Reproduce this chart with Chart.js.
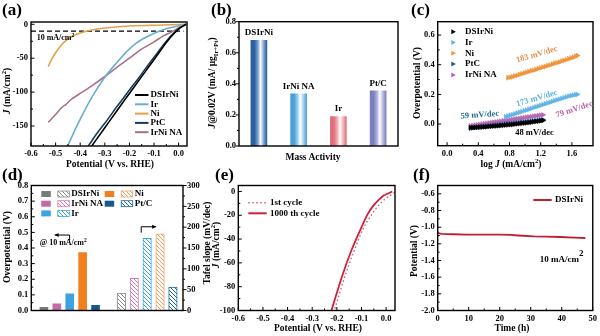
<!DOCTYPE html>
<html lang="en">
<head>
<meta charset="UTF-8">
<title>DSIrNi HER</title>
<script src="https://cdn.jsdelivr.net/npm/chart.js"></script>
<style>
  body { margin: 0; background: #fff; }
  #page { position: relative; width: 600px; height: 336px; overflow: hidden;
          font-family: 'Liberation Serif', 'Times New Roman', serif; font-weight: bold; color: #000; }
  canvas { position: absolute; }
  .lbl { position: absolute; white-space: nowrap; font-size: 9.5px; line-height: 1; transform: translate(-50%, -50%); }
  .rot { transform: translate(-50%, -50%) rotate(-90deg); }
  .tag { position: absolute; font-size: 17px; line-height: 1; }
  sup, sub { font-size: 70%; line-height: 0; }
</style>
</head>
<body>
<div id="page">
  <canvas id="ca" width="200" height="170" style="left:0;top:0"></canvas>
  <canvas id="cb" width="200" height="170" style="left:200px;top:0"></canvas>
  <canvas id="cc" width="200" height="170" style="left:400px;top:0"></canvas>
  <canvas id="cd" width="215" height="171" style="left:0;top:165px"></canvas>
  <canvas id="ce" width="200" height="171" style="left:200px;top:165px"></canvas>
  <canvas id="cf" width="200" height="171" style="left:400px;top:165px"></canvas>

  <div class="tag" style="left:2px;top:1px">(a)</div>
  <div class="tag" style="left:211px;top:1px">(b)</div>
  <div class="tag" style="left:411px;top:1px">(c)</div>
  <div class="tag" style="left:2px;top:166px">(d)</div>
  <div class="tag" style="left:215px;top:166px">(e)</div>
  <div class="tag" style="left:413px;top:166px">(f)</div>

  <div class="lbl rot" style="left:8px;top:91px"><i>J</i> (mA/cm<sup>2</sup>)</div>
  <div class="lbl" style="left:110px;top:165px">Potential (V vs. RHE)</div>
  <div class="lbl rot" style="left:213px;top:83px"><i>J</i>@0.02V (mA/ μg<sub>Ir+Pt</sub>)</div>
  <div class="lbl" style="left:313px;top:158px">Mass Activity</div>
  <div class="lbl rot" style="left:418px;top:83px">Overpotential (V)</div>
  <div class="lbl" style="left:511px;top:165px">log <i>J</i> (mA/cm<sup>2</sup>)</div>
  <div class="lbl rot" style="left:7.5px;top:247px">Overpotential (V)</div>
  <div class="lbl rot" style="left:208px;top:243px">Tafel slope (mV/dec)</div>
  <div class="lbl rot" style="left:217px;top:245px"><i>J</i> (mA/cm<sup>2</sup>)</div>
  <div class="lbl" style="left:318px;top:329px">Potential (V vs. RHE)</div>
  <div class="lbl rot" style="left:415px;top:251px">Potential (V)</div>
  <div class="lbl" style="left:512px;top:329px">Time (h)</div>
</div>

<script>
// (a) LSV curves, [potential V, current density mA/cm2]
const aNames = ['DSIrNi', 'Ir', 'Ni', 'PtC', 'IrNi NA'];
const aColors = ['#000000', '#6aaed0', '#e2a048', '#123f5e', '#a8708e'];
const aDSIrNi = [[0.03,0],[0.015,-3],[0,-7],[-0.02,-14],[-0.05,-27],[-0.08,-42],[-0.12,-62],[-0.16,-82],[-0.2,-102],[-0.25,-127],[-0.3,-152.5],[-0.353,-179.5]];
const aIr = [[0.03,0],[0,-2.5],[-0.04,-5.5],[-0.076,-10],[-0.11,-15],[-0.143,-21],[-0.18,-30],[-0.21,-40],[-0.25,-56],[-0.3,-78],[-0.35,-106],[-0.4,-140],[-0.452,-180]];
const aNi = [[0.03,0],[-0.06,-1],[-0.2,-2.5],[-0.3,-5.5],[-0.367,-9.5],[-0.4,-13],[-0.43,-17.5],[-0.455,-23],[-0.48,-32],[-0.5,-42],[-0.515,-51],[-0.53,-62.5]];
const aPtC = [[0.03,0],[0.015,-3],[0,-6.5],[-0.02,-13],[-0.05,-25],[-0.08,-39],[-0.12,-58],[-0.16,-78],[-0.2,-97],[-0.25,-121],[-0.3,-146],[-0.33,-160],[-0.367,-179.5]];
const aIrNiNA = [[0.03,0],[0,-5.5],[-0.03,-11.5],[-0.062,-17],[-0.1,-26],[-0.157,-38],[-0.2,-50],[-0.25,-63],[-0.3,-77],[-0.35,-90],[-0.4,-102],[-0.441,-112],[-0.46,-119],[-0.47,-121],[-0.5,-133],[-0.53,-144.5]];
const aRef = -10;
const aRefSpan = [-0.6, 0.02];
const aXTicks = [-0.6, -0.5, -0.4, -0.3, -0.2, -0.1, 0];
const aYTicks = [0, -50, -100, -150];

// (b) mass activity
const bNames = ['DSIrNi', 'IrNi NA', 'Ir', 'Pt/C'];
const bMass = [0.68, 0.335, 0.19, 0.355];
const bEdge = ['#2d5f9e', '#4c9fd6', '#df6f7b', '#7b7ebf'];
const bMid = ['#7ea6d6', '#a6d3ef', '#f3b4ba', '#b8badf'];
const bYTicks = [0, 0.2, 0.4, 0.6, 0.8];

// (c) Tafel plots, [log J, overpotential V]
const cNames = ['DSIrNi', 'Ir', 'Ni', 'PtC', 'IrNi NA'];
const cColors = ['#000000', '#62b4e6', '#f0943c', '#1b5b86', '#b466b4'];
const cDSIrNi = [[0.30,-0.024],[0.33,-0.024],[0.36,-0.023],[0.39,-0.022],[0.42,-0.021],[0.45,-0.020],[0.48,-0.019],[0.51,-0.018],[0.54,-0.016],[0.57,-0.015],[0.60,-0.014],[0.63,-0.013],[0.66,-0.012],[0.69,-0.010],[0.72,-0.009],[0.75,-0.007],[0.78,-0.006],[0.81,-0.004],[0.84,-0.003],[0.87,-0.001],[0.90,0.001],[0.93,0.003],[0.96,0.005],[0.99,0.006],[1.02,0.008],[1.05,0.010],[1.08,0.012],[1.11,0.015],[1.14,0.017],[1.17,0.019],[1.20,0.022],[1.23,0.024]];
const cIr = [[0.75,0.050],[0.78,0.055],[0.81,0.060],[0.84,0.064],[0.87,0.069],[0.90,0.075],[0.93,0.079],[0.96,0.084],[0.99,0.090],[1.02,0.095],[1.05,0.100],[1.08,0.105],[1.11,0.111],[1.14,0.116],[1.17,0.121],[1.20,0.126],[1.23,0.131],[1.26,0.137],[1.29,0.142],[1.32,0.147],[1.35,0.152],[1.38,0.158],[1.41,0.163],[1.44,0.168],[1.47,0.173],[1.50,0.178],[1.53,0.183],[1.56,0.188],[1.59,0.192],[1.62,0.195],[1.65,0.198],[1.67,0.200]];
const cNi = [[0.78,0.312],[0.81,0.316],[0.84,0.319],[0.87,0.325],[0.90,0.328],[0.93,0.335],[0.96,0.339],[0.99,0.344],[1.02,0.349],[1.05,0.354],[1.08,0.360],[1.11,0.363],[1.14,0.368],[1.17,0.374],[1.20,0.379],[1.23,0.384],[1.26,0.388],[1.29,0.394],[1.32,0.398],[1.35,0.404],[1.38,0.410],[1.41,0.413],[1.44,0.418],[1.47,0.425],[1.50,0.429],[1.53,0.434],[1.56,0.440],[1.59,0.445],[1.62,0.450],[1.65,0.457],[1.67,0.462]];
const cPtC = [[0.30,-0.028],[0.33,-0.026],[0.36,-0.024],[0.39,-0.022],[0.42,-0.021],[0.45,-0.019],[0.48,-0.017],[0.51,-0.015],[0.54,-0.014],[0.57,-0.012],[0.60,-0.010],[0.63,-0.008],[0.66,-0.006],[0.69,-0.005],[0.72,-0.003],[0.75,-0.001],[0.78,0.001],[0.81,0.003],[0.84,0.004],[0.87,0.006],[0.90,0.008],[0.93,0.010],[0.96,0.012],[0.99,0.013],[1.02,0.015],[1.05,0.017],[1.08,0.019],[1.11,0.021],[1.14,0.023],[1.17,0.025],[1.20,0.027],[1.23,0.029]];
const cIrNiNA = [[0.30,-0.012],[0.33,-0.010],[0.36,-0.007],[0.39,-0.005],[0.42,-0.002],[0.45,0.000],[0.48,0.002],[0.51,0.005],[0.54,0.007],[0.57,0.010],[0.60,0.012],[0.63,0.014],[0.66,0.017],[0.69,0.019],[0.72,0.022],[0.75,0.024],[0.78,0.026],[0.81,0.029],[0.84,0.031],[0.87,0.034],[0.90,0.036],[0.93,0.038],[0.96,0.041],[0.99,0.043],[1.02,0.046],[1.05,0.048],[1.08,0.050],[1.11,0.053],[1.14,0.055],[1.17,0.058],[1.20,0.060],[1.23,0.062]];
const cSlopes = ['48 mV/dec', '173 mV/dec', '183 mV/dec', '59 mV/dec', '79 mV/dec'];
const cXTicks = [0, 0.4, 0.8, 1.2, 1.6];
const cYTicks = [0, 0.2, 0.4, 0.6];

// (d) overpotential @10 mA/cm2 and Tafel slope
const dNames = ['DSIrNi', 'IrNi NA', 'Ir', 'Ni', 'Pt/C'];
const dOverpotential = [0.02, 0.042, 0.106, 0.37, 0.033];
const dTafel = [42, 77, 173, 184, 56];
const dSolid = ['#7b7b7b', '#c46aa6', '#3fa2e0', '#f07f1e', '#17598a'];
const dHatch = ['#8a8a8a', '#d27ab8', '#3aa6d8', '#f2a060', '#1a6a90'];
const dLeftTicks = [0, 0.1, 0.2, 0.3, 0.4, 0.5, 0.6, 0.7, 0.8];
const dRightTicks = [0, 50, 100, 150, 200, 250, 300];

// (e) LSV before / after cycling
const e1st = [[0.035,-1],[0.015,-3.5],[-0.005,-6.5],[-0.025,-10.5],[-0.045,-15.5],[-0.07,-23],[-0.095,-32],[-0.13,-50],[-0.17,-73],[-0.21,-100]];
const e1000 = [[0.025,0],[0.01,-1.5],[-0.01,-3.5],[-0.03,-7],[-0.05,-11.5],[-0.075,-19],[-0.1,-30],[-0.14,-49],[-0.18,-72],[-0.222,-100]];
const eXTicks = [-0.6, -0.5, -0.4, -0.3, -0.2, -0.1, 0];
const eYTicks = [0, -20, -40, -60, -80, -100];

// (f) chronopotentiometry, [time h, potential V]
const fDSIrNi = [[0,-1.06],[0.5,-1.075],[1.3,-1.08],[5,-1.085],[9.4,-1.09],[15,-1.09],[20.2,-1.09],[23.4,-1.093],[26,-1.1],[31,-1.11],[35,-1.113],[39.6,-1.118],[44,-1.125],[47.6,-1.13]];
const fXTicks = [0, 10, 20, 30, 40, 50];
const fYTicks = [-2.0, -1.8, -1.6, -1.4, -1.2, -1.0, -0.8, -0.6];

const FONT = "'Liberation Serif', 'Times New Roman', serif";
Chart.defaults.font.family = FONT;
Chart.defaults.font.weight = 'bold';
Chart.defaults.font.size = 8.5;
Chart.defaults.color = '#000';
Chart.defaults.animation = false;
Chart.defaults.plugins.legend.display = false;
Chart.defaults.plugins.tooltip.enabled = false;

const pts = arr => arr.map(([x, y]) => ({ x, y }));
const fix = n => v => Number(v).toFixed(n);

// linear axis with fixed thickness and explicit ticks
function linAxis(position, min, max, tickVals, thick, fmt) {
  return {
    type: 'linear', position, min, max, offset: false,
    grid: { display: false, drawTicks: false },
    border: { display: false },
    ticks: { padding: 3, autoSkip: false, maxRotation: 0, callback: fmt },
    afterBuildTicks: s => { s.ticks = tickVals.map(v => ({ value: v })); },
    afterFit: s => { if (s.isHorizontal()) s.height = thick; else s.width = thick; }
  };
}

function hatch(color) {
  const c = document.createElement('canvas');
  c.width = c.height = 4;
  const g = c.getContext('2d');
  g.fillStyle = '#fff';
  g.fillRect(0, 0, 4, 4);
  g.strokeStyle = color;
  g.lineWidth = 1;
  g.beginPath();
  g.moveTo(0, 0); g.lineTo(4, 4);
  g.moveTo(-1, 3); g.lineTo(1, 5);
  g.moveTo(3, -1); g.lineTo(5, 1);
  g.stroke();
  return g.createPattern(c, 'repeat');
}

// text with italic / sub / sup pieces
function rich(ctx, x, y, parts, size, color, align, rot) {
  ctx.save();
  ctx.translate(x, y);
  ctx.rotate((rot || 0) * Math.PI / 180);
  ctx.fillStyle = color || '#000';
  ctx.textBaseline = 'middle';
  const segs = parts.map(p => typeof p === 'string' ? [p, ''] : p);
  const font = k => (k === 'i' ? 'italic ' : '') + 'bold ' + (k === 'sup' || k === 'sub' ? size * 0.7 : size) + 'px ' + FONT;
  let w = 0;
  segs.forEach(([t, k]) => { ctx.font = font(k); w += ctx.measureText(t).width; });
  let cx = align === 'left' ? 0 : align === 'right' ? -w : -w / 2;
  segs.forEach(([t, k]) => {
    ctx.font = font(k);
    const dy = k === 'sup' ? -size * 0.4 : k === 'hi' ? -size * 0.7 : k === 'sub' ? size * 0.3 : 0;
    ctx.fillText(t, cx, dy);
    cx += ctx.measureText(t).width;
  });
  ctx.restore();
}

// frame, inward/outward tick marks, legend, notes, arrows
function decor(ex) {
  return {
    id: 'decor',
    afterDraw(chart) {
      const { ctx, chartArea: a, scales } = chart;
      ctx.save();
      ctx.strokeStyle = '#000';
      ctx.lineWidth = 1;
      (ex.ticks || []).forEach(([id, dir, minor]) => {
        const s = scales[id];
        const vals = s.ticks.map(t => t.value);
        const marks = vals.map(v => [v, 3.5]);
        if (minor) for (let i = 0; i + 1 < vals.length; i++) marks.push([(vals[i] + vals[i + 1]) / 2, 2]);
        ctx.beginPath();
        marks.forEach(([v, len]) => {
          const p = s.getPixelForValue(v);
          if (s.isHorizontal()) { ctx.moveTo(p, a.bottom); ctx.lineTo(p, a.bottom - dir * len); }
          else if (s.position === 'left') { ctx.moveTo(a.left, p); ctx.lineTo(a.left + dir * len, p); }
          else { ctx.moveTo(a.right, p); ctx.lineTo(a.right - dir * len, p); }
        });
        ctx.stroke();
      });
      ctx.lineWidth = 1.4;
      ctx.strokeRect(a.left, a.top, a.width, a.height);

      const k = ex.key;
      if (k) {
        k.items.forEach((it, i) => {
          const y = a.top + k.y + i * k.dy;
          const x0 = a.left + k.x;
          ctx.strokeStyle = it.color;
          ctx.fillStyle = it.color;
          if (it.kind === 'tri') {
            ctx.beginPath();
            ctx.moveTo(x0 - 2, y - 2.5); ctx.lineTo(x0 + 2.5, y); ctx.lineTo(x0 - 2, y + 2.5);
            ctx.fill();
          } else {
            ctx.lineWidth = it.width || 2;
            ctx.setLineDash(it.dash || []);
            ctx.beginPath(); ctx.moveTo(x0, y); ctx.lineTo(x0 + k.len, y); ctx.stroke();
            ctx.setLineDash([]);
          }
          rich(ctx, a.left + k.tx, y, [it.label], 9, '#000', 'left');
        });
      }

      (ex.swatches || []).forEach(sw => {
        const y = a.top + sw.y;
        ctx.fillStyle = sw.solid;
        ctx.fillRect(a.left + sw.x, y - 3, 9.5, 6);
        ctx.fillStyle = hatch(sw.hatch);
        ctx.fillRect(a.left + sw.x + 16.5, y - 3, 11.5, 6);
        ctx.strokeStyle = sw.hatch; ctx.lineWidth = 0.8;
        ctx.strokeRect(a.left + sw.x + 16.5, y - 3, 11.5, 6);
        rich(ctx, a.left + sw.x + 30, y, [sw.label], 9, '#000', 'left');
      });

      (ex.notes || []).forEach(n => {
        const x = scales[n.xs || 'x'].getPixelForValue(n.x);
        const y = scales[n.ys || 'y'].getPixelForValue(n.y);
        rich(ctx, x, y, n.parts, n.size || 8.5, n.color, n.align, n.rot);
      });

      (ex.arrows || []).forEach(ar => {
        const sx = scales[ar.xs || 'x'], sy = scales[ar.ys || 'y'];
        const p = ar.path.map(([x, y]) => [sx.getPixelForValue(x), sy.getPixelForValue(y)]);
        ctx.strokeStyle = '#000'; ctx.fillStyle = '#000'; ctx.lineWidth = 1;
        ctx.beginPath();
        p.forEach(([x, y], i) => i ? ctx.lineTo(x, y) : ctx.moveTo(x, y));
        ctx.stroke();
        const [x1, y1] = p[p.length - 2], [x2, y2] = p[p.length - 1];
        const ang = Math.atan2(y2 - y1, x2 - x1);
        ctx.beginPath();
        ctx.moveTo(x2, y2);
        ctx.lineTo(x2 - 4 * Math.cos(ang) + 2 * Math.sin(ang), y2 - 4 * Math.sin(ang) - 2 * Math.cos(ang));
        ctx.lineTo(x2 - 4 * Math.cos(ang) - 2 * Math.sin(ang), y2 - 4 * Math.sin(ang) + 2 * Math.cos(ang));
        ctx.fill();
      });

      if (ex.barNames) {
        const meta = chart.getDatasetMeta(0);
        meta.data.forEach((el, i) => rich(ctx, el.x, el.y - 7.5, [ex.barNames[i]], 9, '#000'));
      }
      ctx.restore();
    }
  };
}

// (a)
const aCurves = [aDSIrNi, aIr, aNi, aPtC, aIrNiNA];
new Chart(document.getElementById('ca'), {
  type: 'line',
  data: {
    datasets: aCurves.map((d, i) => ({
      data: pts(d), borderColor: aColors[i], borderWidth: 1.6, pointRadius: 0, cubicInterpolationMode: 'monotone'
    })).concat([{
      data: aRefSpan.map(x => ({ x, y: aRef })), borderColor: '#000', borderWidth: 1.4, borderDash: [5, 3], pointRadius: 0
    }])
  },
  options: {
    responsive: false,
    layout: { padding: { top: 22, right: 13 } },
    scales: {
      x: linAxis('bottom', -0.6, 0.034, aXTicks, 24, fix(1)),
      y: linAxis('left', -179.5, 3.4, aYTicks, 31, fix(0))
    }
  },
  plugins: [decor({
    ticks: [['x', 1, true], ['y', 1, true]],
    key: { x: 104, len: 13.5, tx: 119.5, y: 73, dy: 9.3,
           items: aNames.map((n, i) => ({ label: n, color: aColors[i], width: 2 })) },
    notes: [{ x: -0.577, y: -20.6, parts: ['10 mA/cm', ['2', 'sup']], size: 8, align: 'left' }]
  })]
});

// (b) bars shaded like cylinders
function barShade(c) {
  const sx = c.chart.scales.x;
  const i = c.dataIndex;
  const cx = sx && i !== undefined ? sx.getPixelForValue(i) : NaN;
  if (!isFinite(cx)) return bEdge[i || 0];
  const g = c.chart.ctx.createLinearGradient(cx - 8, 0, cx + 8, 0);
  g.addColorStop(0, bEdge[i]); g.addColorStop(0.22, bEdge[i]); g.addColorStop(0.45, bMid[i]);
  g.addColorStop(0.6, '#ffffff'); g.addColorStop(0.8, bMid[i]); g.addColorStop(1, bEdge[i]);
  return g;
}
new Chart(document.getElementById('cb'), {
  type: 'bar',
  data: { labels: bNames, datasets: [{ data: bMass, barThickness: 16, backgroundColor: barShade }] },
  options: {
    responsive: false,
    layout: { padding: { top: 21.7, right: 2, bottom: 24 } },
    scales: {
      x: { type: 'category', display: false },
      y: linAxis('left', 0, 0.8, bYTicks, 39, fix(1))
    }
  },
  plugins: [decor({ ticks: [['y', -1, true]], barNames: bNames })]
});

// (c)
const cSeries = [cDSIrNi, cIr, cNi, cPtC, cIrNiNA];
new Chart(document.getElementById('cc'), {
  type: 'scatter',
  data: {
    datasets: cSeries.map((d, i) => ({
      data: pts(d), pointStyle: 'triangle', rotation: 90, pointRadius: 2.8,
      backgroundColor: cColors[i], borderColor: cColors[i], borderWidth: 0.5
    }))
  },
  options: {
    responsive: false,
    layout: { padding: { top: 21.7, right: 7 } },
    scales: {
      x: linAxis('bottom', -0.12, 1.87, cXTicks, 24.3, fix(1)),
      y: linAxis('left', -0.146, 0.69, cYTicks, 37.7, fix(1))
    }
  },
  plugins: [decor({
    ticks: [['x', 1, true], ['y', 1, true]],
    key: { x: 15.6, len: 0, tx: 27.3, y: 10, dy: 10.8,
           items: cNames.map((n, i) => ({ label: n, color: cColors[i], kind: 'tri' })) },
    notes: [
      { x: 1.15, y: 0.469, parts: [cSlopes[2]], color: '#e8904a', rot: -16, size: 8.5 },
      { x: 1.15, y: 0.173, parts: [cSlopes[1]], color: '#5ab0e0', rot: -16, size: 8.5 },
      { x: 1.63, y: 0.098, parts: [cSlopes[4]], color: '#c060a8', rot: -18, size: 8.5 },
      { x: 0.42, y: 0.061, parts: [cSlopes[3]], color: '#1f6a98', rot: -4, size: 8.5 },
      { x: 1.12, y: -0.056, parts: [cSlopes[0]], color: '#000', size: 8.5 }
    ]
  })]
});

// (d)
const dGap = 6;
new Chart(document.getElementById('cd'), {
  type: 'bar',
  data: {
    datasets: [{
      data: dOverpotential.map((v, i) => ({ x: i, y: v })),
      backgroundColor: dSolid, yAxisID: 'y', barThickness: 8, grouped: false
    }, {
      data: dTafel.map((v, i) => ({ x: i + dGap, y: v })),
      backgroundColor: dHatch.map(hatch), borderColor: dHatch, borderWidth: 1,
      yAxisID: 'y2', barThickness: 8.5, grouped: false
    }]
  },
  options: {
    responsive: false,
    layout: { padding: { top: 20.5, bottom: 25.5 } },
    scales: {
      x: { type: 'linear', min: -0.98, max: 10.78, display: false, offset: false },
      y: linAxis('left', 0, 0.8, dLeftTicks, 31.3, fix(1)),
      y2: Object.assign(linAxis('right', 0, 300, dRightTicks, 32, fix(0)), { ticks: { padding: 4, autoSkip: false, callback: fix(0) } })
    }
  },
  plugins: [decor({
    ticks: [['y', 1, true], ['y2', -1, true]],
    swatches: [0, 1, 2].map(i => ({ x: 10, y: 8.5 + i * 9.7, solid: dSolid[i], hatch: dHatch[i], label: dNames[i] }))
      .concat([3, 4].map((i, r) => ({ x: 73.4, y: 8.5 + r * 9.7, solid: dSolid[i], hatch: dHatch[i], label: dNames[i] }))),
    notes: [{ x: -0.33, y: 0.43, parts: ['@ 10 mA/cm', ['2', 'sup']], size: 8, align: 'left' }],
    arrows: [
      { path: [[1.99, 0.451], [1.99, 0.483], [0.83, 0.483]] },
      { path: [[7.54, 0.498], [7.54, 0.536], [8.7, 0.536]] }
    ]
  })]
});

// (e)
new Chart(document.getElementById('ce'), {
  type: 'line',
  data: {
    datasets: [
      { data: pts(e1000), borderColor: '#d0203a', borderWidth: 1.8, pointRadius: 0, cubicInterpolationMode: 'monotone' },
      { data: pts(e1st), borderColor: '#d0607a', borderWidth: 1.4, borderDash: [1.5, 2.5], pointRadius: 0, cubicInterpolationMode: 'monotone' }
    ]
  },
  options: {
    responsive: false,
    layout: { padding: { top: 20.5, right: 5 } },
    scales: {
      x: linAxis('bottom', -0.6, 0.036, eXTicks, 25.5, fix(1)),
      y: linAxis('left', -100, 5, eYTicks, 38.3, fix(0))
    }
  },
  plugins: [decor({
    ticks: [['x', 1, true], ['y', 1, true]],
    key: { x: 10, len: 18.4, tx: 31.7, y: 17.2, dy: 10.6, items: [
      { label: '1st cycle', color: '#d0607a', width: 1.4, dash: [1.5, 2.5] },
      { label: '1000 th cycle', color: '#d0203a', width: 2 }
    ] }
  })]
});

// (f)
new Chart(document.getElementById('cf'), {
  type: 'line',
  data: { datasets: [{ data: pts(fDSIrNi), borderColor: '#c0202e', borderWidth: 1.8, pointRadius: 0 }] },
  options: {
    responsive: false,
    layout: { padding: { top: 20.5, right: 7 } },
    scales: {
      x: linAxis('bottom', 0, 50, fXTicks, 25.5, fix(0)),
      y: linAxis('left', -2.0, -0.5, fYTicks, 37.7, fix(1))
    }
  },
  plugins: [decor({
    ticks: [['x', 1, true], ['y', 1, true]],
    key: { x: 95.6, len: 18.4, tx: 117.3, y: 14.5, dy: 10, items: [{ label: 'DSIrNi', color: '#c0202e', width: 2 }] },
    notes: [{ x: 32.9, y: -1.39, parts: ['10 mA/cm', ['2', 'hi']], size: 9, align: 'left' }]
  })]
});
</script>
</body>
</html>
